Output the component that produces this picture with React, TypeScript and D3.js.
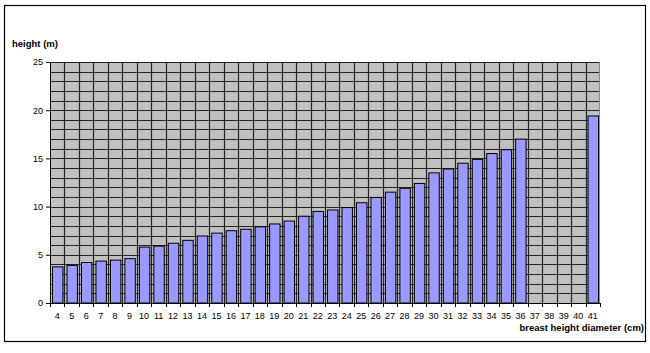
import React, { useEffect, useRef } from 'react';
import * as d3 from 'd3';

const diameters = [4, 5, 6, 7, 8, 9, 10, 11, 12, 13, 14, 15, 16, 17, 18, 19, 20, 21, 22, 23, 24, 25, 26, 27, 28, 29, 30, 31, 32, 33, 34, 35, 36, 37, 38, 39, 40, 41];
const heights: (number | null)[] = [3.75, 3.9, 4.2, 4.35, 4.45, 4.6, 5.8, 5.9, 6.2, 6.5, 6.95, 7.25, 7.5, 7.65, 7.9, 8.2, 8.5, 9.0, 9.5, 9.65, 9.9, 10.4, 10.95, 11.5, 11.9, 12.4, 13.5, 13.9, 14.5, 14.9, 15.5, 15.9, 17.0, null, null, null, null, 19.4];
const yTicks = [0, 5, 10, 15, 20, 25];

export default function App() {
  const ref = useRef<SVGSVGElement>(null);

  useEffect(() => {
    if (!ref.current) return;
    const svg = d3.select(ref.current);
    svg.selectAll('*').remove();

    const width = 650, height = 353;
    const margin = { top: 62, right: 50, bottom: 50, left: 50 };
    const iw = width - margin.left - margin.right;
    const ih = height - margin.top - margin.bottom;
    const font = 'Arial, "Liberation Sans", sans-serif';

    // outer frame
    svg.append('rect').attr('x', 4.5).attr('y', 5.5).attr('width', 641).attr('height', 336)
      .attr('fill', '#fff').attr('stroke', '#000').attr('stroke-width', 1.2);

    const g = svg.append('g').attr('transform', `translate(${margin.left},${margin.top})`);

    const x = d3.scaleBand<number>().domain(diameters).range([0, iw]).paddingInner(0.28).paddingOuter(0.14);
    const y = d3.scaleLinear().domain([0, 25]).range([ih, 0]);

    g.append('rect').attr('width', iw).attr('height', ih).attr('fill', '#c0c0c0');

    // horizontal grid every 1 m
    g.append('g').selectAll('line').data(d3.range(1, 26)).enter().append('line')
      .attr('x1', 0).attr('x2', iw).attr('y1', d => Math.round(y(d)) + 0.5).attr('y2', d => Math.round(y(d)) + 0.5)
      .attr('stroke', '#222').attr('stroke-width', 1.2);

    // vertical grid at category boundaries
    const step = x.step();
    const bounds = d3.range(1, diameters.length + 1).map(i => i * step);
    g.append('g').selectAll('line').data(bounds.slice(0, -1)).enter().append('line')
      .attr('x1', d => Math.round(d) + 0.5).attr('x2', d => Math.round(d) + 0.5).attr('y1', 0).attr('y2', ih)
      .attr('stroke', '#222').attr('stroke-width', 1.2);
    g.append('line').attr('x1', iw - 0.5).attr('x2', iw - 0.5).attr('y1', 0).attr('y2', ih).attr('stroke', '#888');

    // bars
    const pts = diameters.map((d, i) => ({ d, h: heights[i] })).filter(p => p.h != null) as { d: number; h: number }[];
    g.append('g').selectAll('rect').data(pts).enter().append('rect')
      .attr('x', p => x(p.d)! + 0.5).attr('y', p => y(p.h)).attr('width', x.bandwidth()).attr('height', p => ih - y(p.h))
      .attr('fill', '#9999ff').attr('stroke', '#000').attr('stroke-width', 1);

    // axes
    const yAxis = g.append('g').call(d3.axisLeft(y).tickValues(yTicks).tickSize(4).tickPadding(3));
    yAxis.select('.domain').attr('stroke', '#000');
    yAxis.selectAll('text').attr('font-size', '9px').attr('font-family', font).attr('fill', '#000');

    const xAxis = g.append('g').attr('transform', `translate(0,${ih})`);
    xAxis.append('line').attr('x1', 0).attr('x2', iw).attr('y1', 0.5).attr('y2', 0.5).attr('stroke', '#000');
    xAxis.selectAll('line.tk').data([0, ...bounds]).enter().append('line').attr('class', 'tk')
      .attr('x1', d => Math.round(d) + 0.5).attr('x2', d => Math.round(d) + 0.5).attr('y1', 0).attr('y2', 4).attr('stroke', '#000');
    xAxis.selectAll('text').data(diameters).enter().append('text')
      .attr('x', d => x(d)! - x.step() * x.paddingInner() / 2 + step / 2).attr('y', 16)
      .attr('text-anchor', 'middle').attr('font-size', '9px').attr('font-family', font).attr('fill', '#000').text(d => d);

    svg.append('text').attr('x', 12).attr('y', 47).attr('font-size', '9.5px').attr('font-weight', 'bold')
      .attr('font-family', font).attr('fill', '#000').text('height (m)');
    svg.append('text').attr('x', 644).attr('y', 331).attr('text-anchor', 'end').attr('font-size', '9.5px').attr('font-weight', 'bold')
      .attr('font-family', font).attr('fill', '#000').text('breast height diameter (cm)');
  }, []);

  return <svg ref={ref} width={650} height={353} style={{ position: 'absolute', left: 0, top: 0 }} />;
}
